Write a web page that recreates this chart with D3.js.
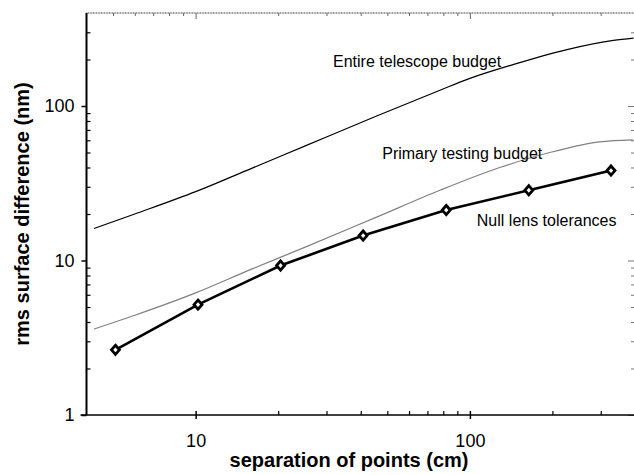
<!DOCTYPE html>
<html lang="en">
<head>
<meta charset="UTF-8">
<title>rms surface difference</title>
<style>
  body { margin: 0; background: #fff; }
  svg text { font-family: "Liberation Sans", Arial, sans-serif; }
</style>
</head>
<body>
<svg id="chart" width="634" height="475"></svg>
<script src="https://cdn.jsdelivr.net/npm/d3@7/dist/d3.min.js"></script>
<script>
// separation of points (cm) vs rms surface difference (nm)
var nullSep = [5.1, 10.2, 20.4, 40.8, 82, 164, 327];
var nullRms = [2.64, 5.18, 9.28, 14.5, 21.2, 28.5, 38.2];

var teleSep = [4.26, 6, 10, 16, 25.1, 45.7, 78.2, 100, 144.5, 226, 334, 395];
var teleRms = [16.1, 20.0, 27.9, 39.5, 55.2, 86.1, 127, 151, 186, 232, 266, 275];

var primSep = [4.26, 6, 10, 16, 25.1, 45.7, 78.2, 128.5, 195.5, 297, 393];
var primRms = [3.6, 4.42, 6.17, 8.8, 12.2, 19.1, 28.6, 40.0, 50.0, 58.6, 60.4];

var labels = ["Entire telescope budget", "Primary testing budget", "Null lens tolerances"];
var labelSep = [31.7, 47.9, 106];
var labelRms = [179.6, 45.2, 16.7];

var xMajor = [10, 100];
var xMinorBottom = [20, 30, 40, 50, 60, 70, 80, 90, 200, 300];
var xMinorTop = [5, 6, 7, 8, 9, 20, 30, 40, 50, 60, 70, 80, 90, 200, 300];
var yMajor = [1, 10, 100];
var yMinor = [2, 3, 4, 5, 6, 7, 8, 9, 20, 30, 40, 50, 60, 70, 80, 90, 200, 300];

var svg = d3.select("#chart");
var mLeft = 86.5, mRight = 635, mTop = 13, mBottom = 415;

var x = d3.scaleLog().domain([4, 400]).range([mLeft, mRight]);
var y = d3.scaleLog().domain([1, 400]).range([mBottom, mTop]);

// top + right frame (grey, dotted look)
svg.append("line").attr("x1", mLeft).attr("x2", mRight).attr("y1", mTop).attr("y2", mTop)
  .attr("stroke", "#777").attr("stroke-width", 1.3).attr("stroke-dasharray", "1,0.6");

svg.append("g").attr("transform", "translate(0," + mTop + ")")
  .call(d3.axisTop(x).tickValues(xMinorTop).tickSize(-3).tickFormat(""))
  .call(g => g.select(".domain").remove())
  .call(g => g.selectAll("line").attr("stroke", "#666"));
svg.append("g").attr("transform", "translate(0," + mTop + ")")
  .call(d3.axisTop(x).tickValues(xMajor).tickSize(-6).tickFormat(""))
  .call(g => g.select(".domain").remove())
  .call(g => g.selectAll("line").attr("stroke", "#666"));

svg.append("g").attr("transform", "translate(" + mRight + ",0)")
  .call(d3.axisRight(y).tickValues(yMinor).tickSize(-4).tickFormat(""))
  .call(g => g.select(".domain").remove())
  .call(g => g.selectAll("line").attr("stroke", "#777"));
svg.append("g").attr("transform", "translate(" + mRight + ",0)")
  .call(d3.axisRight(y).tickValues(yMajor).tickSize(-7).tickFormat(""))
  .call(g => g.select(".domain").remove())
  .call(g => g.selectAll("line").attr("stroke", "#777"));

// bottom axis
svg.append("g").attr("transform", "translate(0," + mBottom + ")")
  .call(d3.axisBottom(x).tickValues(xMinorBottom).tickSize(-4).tickFormat(""))
  .call(g => g.select(".domain").remove())
  .call(g => g.selectAll("line").attr("stroke", "#000").attr("stroke-width", 1.2));
svg.append("g").attr("transform", "translate(0," + mBottom + ")")
  .call(d3.axisBottom(x).tickValues(xMajor).tickSize(4).tickPadding(15).tickFormat(d3.format("d")))
  .call(g => g.select(".domain").remove())
  .call(g => g.selectAll("line").attr("y1", -4).attr("stroke", "#000").attr("stroke-width", 1.5))
  .call(g => g.selectAll("text").attr("font-size", 18).attr("fill", "#000")
    .attr("font-family", "Liberation Sans, Arial, sans-serif"));
svg.append("line").attr("x1", mLeft - 6).attr("x2", mRight).attr("y1", mBottom).attr("y2", mBottom)
  .attr("stroke", "#000").attr("stroke-width", 1.6);

// left axis
svg.append("g").attr("transform", "translate(" + mLeft + ",0)")
  .call(d3.axisLeft(y).tickValues(yMinor).tickSize(-4).tickFormat(""))
  .call(g => g.select(".domain").remove())
  .call(g => g.selectAll("line").attr("stroke", "#000").attr("stroke-width", 1.2));
svg.append("g").attr("transform", "translate(" + mLeft + ",0)")
  .call(d3.axisLeft(y).tickValues(yMajor).tickSize(5).tickPadding(7).tickFormat(d3.format("d")))
  .call(g => g.select(".domain").remove())
  .call(g => g.selectAll("line").attr("stroke", "#000").attr("stroke-width", 1.5))
  .call(g => g.selectAll("text").attr("font-size", 18).attr("fill", "#000")
    .attr("font-family", "Liberation Sans, Arial, sans-serif"));
svg.append("line").attr("x1", mLeft).attr("x2", mLeft).attr("y1", mTop).attr("y2", mBottom)
  .attr("stroke", "#000").attr("stroke-width", 2);

// curves
var curve = d3.line().x(d => x(d[0])).y(d => y(d[1])).curve(d3.curveMonotoneX);

svg.append("path").datum(d3.zip(teleSep, teleRms)).attr("d", curve)
  .attr("fill", "none").attr("stroke", "#000").attr("stroke-width", 1.2);
svg.append("path").datum(d3.zip(primSep, primRms)).attr("d", curve)
  .attr("fill", "none").attr("stroke", "#808080").attr("stroke-width", 1.2);

var nullData = d3.zip(nullSep, nullRms);
svg.append("path").datum(nullData)
  .attr("d", d3.line().x(d => x(d[0])).y(d => y(d[1])))
  .attr("fill", "none").attr("stroke", "#000").attr("stroke-width", 2.6);
svg.selectAll("path.mk").data(nullData).join("path").attr("class", "mk")
  .attr("transform", d => "translate(" + x(d[0]) + "," + y(d[1]) + ")")
  .attr("d", "M0,-4.6L4,0L0,4.6L-4,0Z")
  .attr("fill", "#fff").attr("stroke", "#000").attr("stroke-width", 2.8);

// curve labels
svg.selectAll("text.lbl").data(labels).join("text").attr("class", "lbl")
  .attr("x", (d, i) => x(labelSep[i])).attr("y", (d, i) => y(labelRms[i]))
  .attr("font-size", 16).attr("fill", "#000").text(d => d);

// axis titles
svg.append("text").attr("x", 349).attr("y", 467).attr("text-anchor", "middle")
  .attr("font-size", 20).attr("font-weight", "bold").text("separation of points (cm)");
svg.append("text").attr("transform", "translate(29,214) rotate(-90)").attr("text-anchor", "middle")
  .attr("font-size", 20).attr("font-weight", "bold").text("rms surface difference (nm)");
</script>
</body>
</html>
